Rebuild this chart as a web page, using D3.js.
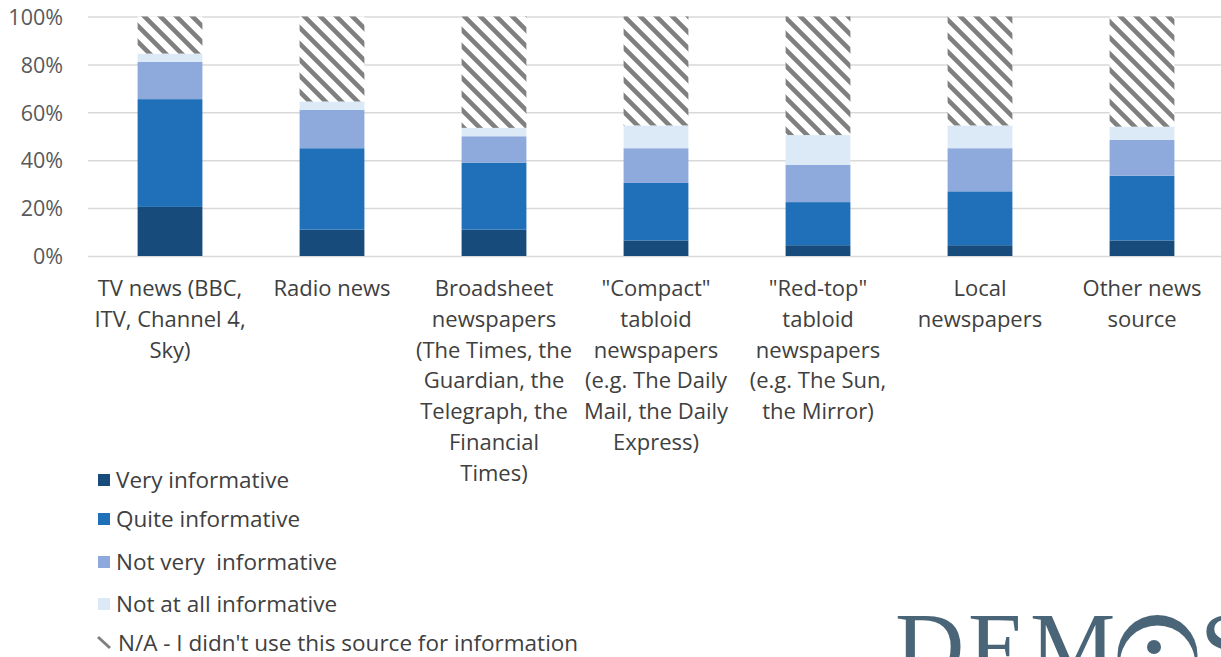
<!DOCTYPE html>
<html><head><meta charset="utf-8">
<script src="https://cdn.jsdelivr.net/npm/d3@7"></script>
<style>
html,body{margin:0;padding:0;background:#fff;overflow:hidden}
text{font-family:"Open Sans",Lato,sans-serif}
</style></head>
<body>
<svg id="c" width="1221" height="657"></svg>
<script>
const categories = [
  ["TV news (BBC,","ITV, Channel 4,","Sky)"],
  ["Radio news"],
  ["Broadsheet","newspapers","(The Times, the","Guardian, the","Telegraph, the","Financial","Times)"],
  ["\"Compact\"","tabloid","newspapers","(e.g. The Daily","Mail, the Daily","Express)"],
  ["\"Red-top\"","tabloid","newspapers","(e.g. The Sun,","the Mirror)"],
  ["Local","newspapers"],
  ["Other news","source"]
];
const seriesNames = ["Very informative","Quite informative","Not very  informative","Not at all informative","N/A - I didn't use this source for information"];
const veryInformative    = [20.5, 11, 11, 6.5, 4.5, 4.5, 6.5];
const quiteInformative   = [45, 34, 28, 24, 18, 22.5, 27];
const notVeryInformative = [15.5, 16, 11, 14.5, 15.5, 18, 15];
const notAtAllInformative= [3.5, 3.5, 3.5, 9.5, 12.5, 9.5, 5.5];
const notApplicable      = [15.5, 35.5, 46.5, 45.5, 49.5, 45.5, 46];
const yTicks = [0, 20, 40, 60, 80, 100];

const colors = ["#174b7c","#1f70b9","#8ea9dc","#dbeaf6","url(#hatch)"];

const svg = d3.select("#c");
const defs = svg.append("defs");
const pat = defs.append("pattern").attr("id","hatch").attr("patternUnits","userSpaceOnUse")
  .attr("width",16).attr("height",16);
pat.append("rect").attr("width",16).attr("height",16).attr("fill","#fff");
pat.append("path").attr("d","M-4,-4L20,20M-4,12L4,20M12,-4L20,4")
  .attr("stroke","#808080").attr("stroke-width",4.6);

const keys = ["v","q","n","a","na"];
const rows = categories.map((c,i)=>({i, v:veryInformative[i], q:quiteInformative[i], n:notVeryInformative[i], a:notAtAllInformative[i], na:notApplicable[i]}));
const stack = d3.stack().keys(keys)(rows);

const x = d3.scaleBand().domain(d3.range(categories.length)).range([89,1223]).paddingInner(0.6).paddingOuter(0.3);
const y = d3.scaleLinear().domain([0,100]).range([256,16.5]);

// y axis labels
const yAxis = d3.axisLeft(y).tickValues(yTicks).tickFormat(d=>d+"%").tickSize(0).tickPadding(0);
const ga = svg.append("g").attr("transform","translate(63,0)").call(yAxis);
ga.select(".domain").remove();
ga.selectAll("text").attr("font-size",21.5).attr("fill","#595959").attr("dy","0.36em")
  .style("font-family","'Open Sans',sans-serif");

// gridlines
const grid = d3.axisLeft(y).tickValues(yTicks).tickSize(-(1221-88)).tickFormat("");
const gg = svg.append("g").attr("transform","translate(88,0)").call(grid);
gg.select(".domain").remove();
gg.selectAll("line").attr("stroke","#d9d9d9").attr("stroke-width",1.5);

// bars
svg.append("g").selectAll("g").data(stack).join("g")
  .attr("fill",(d,i)=>colors[i])
  .selectAll("rect").data(d=>d).join("rect")
  .attr("x",d=>x(d.data.i)).attr("width",x.bandwidth())
  .attr("y",d=>y(d[1])).attr("height",d=>y(d[0])-y(d[1]));

// x labels
const xl = svg.append("g");
categories.forEach((lines,i)=>{
  const t = xl.append("text").attr("text-anchor","middle").attr("font-size",22).attr("fill","#404040");
  lines.forEach((l,j)=>{
    t.append("tspan").attr("x",x(i)+x.bandwidth()/2).attr("y",296+j*30.8).text(l);
  });
});

// legend
const legY = [480,519,562,604,643];
const lg = svg.append("g");
seriesNames.forEach((s,i)=>{
  if(i<4){
    lg.append("rect").attr("x",98).attr("y",legY[i]-6).attr("width",12).attr("height",12).attr("fill",colors[i]);
  } else {
    lg.append("line").attr("x1",98).attr("y1",legY[i]-6).attr("x2",110).attr("y2",legY[i]+5)
      .attr("stroke","#808080").attr("stroke-width",3);
  }
  lg.append("text").attr("x",i<4?116:118).attr("y",legY[i]).attr("dy","0.36em")
    .style("white-space","pre")
    .attr("font-size",22.5).attr("fill","#404040").text(s);
});

// DEMOS logo (cropped at bottom, as in the reference)
const logo = svg.append("g").attr("fill","#4a6577");
[["D",895],["E",968],["M",1030],["S",1200]].forEach(([ch,px])=>{
  logo.append("text").attr("x",px).attr("y",679)
    .style("font-family","'Liberation Serif','DejaVu Serif',serif").style("font-size","96px").text(ch);
});
logo.append("circle").attr("cx",1157.5).attr("cy",655).attr("r",40);
logo.append("circle").attr("cx",1157.5).attr("cy",663).attr("r",37.5).attr("fill","#fff");
logo.append("circle").attr("cx",1154).attr("cy",647).attr("r",7);
</script>
</body></html>
